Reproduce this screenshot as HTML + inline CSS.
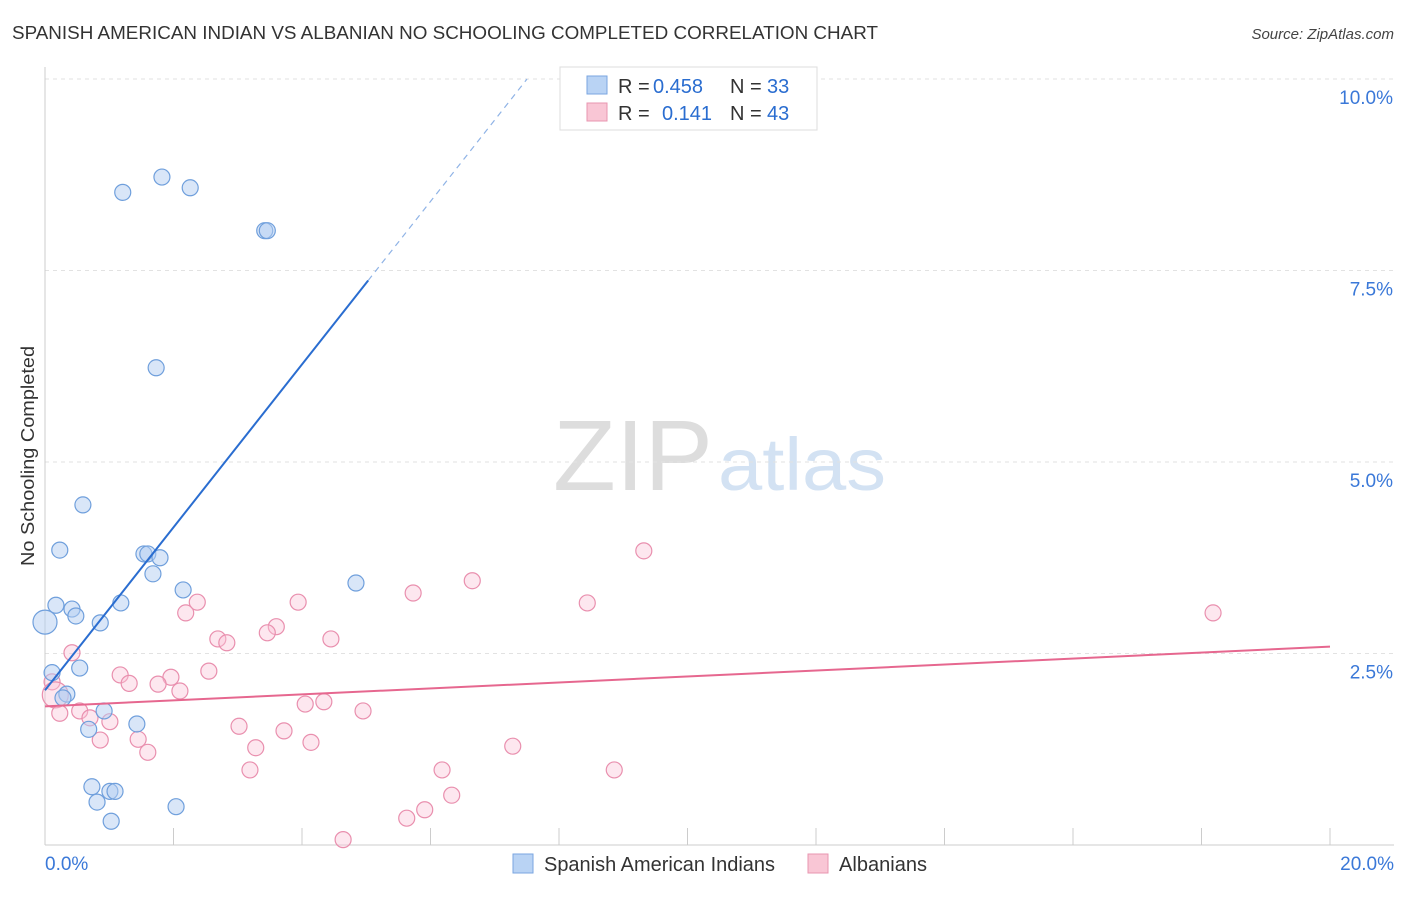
<!DOCTYPE html>
<html><head><meta charset="utf-8"><style>
body{margin:0;background:#fff;font-family:"Liberation Sans",sans-serif}
svg text{font-family:"Liberation Sans",sans-serif}
</style></head><body>
<svg width="1406" height="892" xmlns="http://www.w3.org/2000/svg" id="chart">
<text x="12" y="39" font-size="18" fill="#333" textLength="866" lengthAdjust="spacingAndGlyphs">SPANISH AMERICAN INDIAN VS ALBANIAN NO SCHOOLING COMPLETED CORRELATION CHART</text>
<text x="1394" y="39" font-size="15" fill="#444" text-anchor="end" font-style="italic">Source: ZipAtlas.com</text>
<g>
<text x="553" y="490" font-size="100" fill="#ddd" font-family="Liberation Serif" textLength="160" lengthAdjust="spacingAndGlyphs">ZIP</text>
<text x="718" y="490" font-size="74" fill="#d3e2f3" textLength="168" lengthAdjust="spacingAndGlyphs">atlas</text>
</g>
<g id="grid"></g>
<g id="axes"></g>
<g id="marks"></g>
<text transform="translate(34,456) rotate(-90)" font-size="18" fill="#333" text-anchor="middle" textLength="220" lengthAdjust="spacingAndGlyphs">No Schooling Completed</text>
<g>
<rect x="560" y="67" width="257" height="63" fill="#fff" stroke="#ddd"/>
<rect x="587" y="76" width="20" height="18" fill="#b9d3f4" stroke="#7aa6e0"/>
<rect x="587" y="103" width="20" height="18" fill="#f9c6d5" stroke="#e896b0"/>
<text x="618" y="93" font-size="20" fill="#333">R =</text>
<text x="653" y="93" font-size="20" fill="#2a6dd0">0.458</text>
<text x="730" y="93" font-size="20" fill="#333">N =</text>
<text x="767" y="93" font-size="20" fill="#2a6dd0">33</text>
<text x="618" y="120" font-size="20" fill="#333">R =</text>
<text x="662" y="120" font-size="20" fill="#2a6dd0">0.141</text>
<text x="730" y="120" font-size="20" fill="#333">N =</text>
<text x="767" y="120" font-size="20" fill="#2a6dd0">43</text>
</g>
<g>
<rect x="513" y="854" width="20" height="19" fill="#b9d3f4" stroke="#7aa6e0"/>
<text x="544" y="871" font-size="20" fill="#333" textLength="231" lengthAdjust="spacingAndGlyphs">Spanish American Indians</text>
<rect x="808" y="854" width="20" height="19" fill="#f9c6d5" stroke="#e896b0"/>
<text x="839" y="871" font-size="20" fill="#333" textLength="88" lengthAdjust="spacingAndGlyphs">Albanians</text>
</g>
</svg>
<script>
const blueX=[1.21,1.82,2.26,3.42,3.46,1.73,0.59,0.23,1.54,1.60,1.79,1.68,2.15,4.84,0.17,1.18,0.42,0.48,0.0,0.86,0.11,0.54,0.34,0.28,0.92,1.43,0.68,0.73,1.01,1.09,0.81,2.04,1.03];
const blueY=[8.52,8.72,8.58,8.02,8.02,6.23,4.44,3.85,3.80,3.80,3.75,3.54,3.33,3.42,3.13,3.16,3.08,2.99,2.91,2.90,2.25,2.31,1.97,1.92,1.75,1.58,1.51,0.76,0.70,0.70,0.56,0.50,0.31];
const pinkX=[9.32,6.65,5.73,8.44,18.18,2.37,3.94,2.19,3.60,3.46,2.69,2.83,4.45,0.42,2.55,1.17,1.96,1.31,1.76,2.10,0.11,0.16,4.05,4.34,4.95,0.54,0.23,0.70,1.01,3.02,3.72,1.45,0.86,4.14,3.28,7.28,1.60,3.19,6.18,8.86,6.33,5.91,5.63,4.64];
const pinkY=[3.84,3.45,3.29,3.16,3.03,3.17,3.17,3.03,2.85,2.77,2.69,2.64,2.69,2.51,2.27,2.22,2.19,2.11,2.10,2.01,2.13,1.96,1.84,1.87,1.75,1.75,1.72,1.66,1.61,1.55,1.49,1.38,1.37,1.34,1.27,1.29,1.21,0.98,0.98,0.98,0.65,0.46,0.35,0.07];
const yTicks=[2.5,5.0,7.5,10.0];
const yTickLabels=["2.5%","5.0%","7.5%","10.0%"];
const xTicks=[0,2,4,6,8,10,12,14,16,18,20];
const blueTrend=[0.0,2.02,5.03,7.37];
const pinkTrend=[0.0,1.81,20.0,2.59];
const NS="http://www.w3.org/2000/svg";
const sx=v=>45+v/20*1285, sy=v=>845-v/10*766;
function mk(tag,attrs,parent){const e=document.createElementNS(NS,tag);for(const k in attrs)e.setAttribute(k,attrs[k]);document.getElementById(parent).appendChild(e);return e;}
yTicks.forEach((t,i)=>{
 const g=mk('line',{x1:45,x2:1394,y1:sy(t),y2:sy(t),stroke:'#e2e2e2','stroke-dasharray':'4,4'},'grid');
 
 
 const l=mk('text',{x:1393,y:sy(t)+25,'font-size':19,fill:'#3a78d8','text-anchor':'end'},'axes');
 l.textContent=yTickLabels[i];
 
 
});
const ax=mk('line',{x1:45,x2:45,y1:67,y2:845,stroke:'#ccc'},'axes');


const bx=mk('line',{x1:45,x2:1394,y1:845,y2:845,stroke:'#ccc'},'axes');


xTicks.forEach(t=>{const e=mk('line',{x1:sx(t),x2:sx(t),y1:828,y2:845,stroke:'#ccc'},'axes');
 
 });
const x0=mk('text',{x:45,y:870,'font-size':19,fill:'#3a78d8'},'axes');x0.textContent='0.0%';


const x1=mk('text',{x:1394,y:870,'font-size':19,fill:'#3a78d8','text-anchor':'end'},'axes');x1.textContent='20.0%';


pinkX.forEach((x,i)=>{const c=mk('circle',{cx:sx(x),cy:sy(pinkY[i]),r:(i==21?13:8),fill:'rgba(249,195,214,0.4)',stroke:'#e98fae','stroke-width':1.2},'marks');
 
 });
blueX.forEach((x,i)=>{const c=mk('circle',{cx:sx(x),cy:sy(blueY[i]),r:(i==18?12:8),fill:'rgba(180,206,242,0.5)',stroke:'#6f9fdc','stroke-width':1.2},'marks');
 
 });
const slope=(blueTrend[3]-blueTrend[1])/(blueTrend[2]-blueTrend[0]);
const bxEnd=blueTrend[0]+(10-blueTrend[1])/slope;
const bl=mk('line',{x1:sx(blueTrend[0]),y1:sy(blueTrend[1]),x2:sx(blueTrend[2]),y2:sy(blueTrend[3]),stroke:'#2a6dd0','stroke-width':2},'marks');


const bd=mk('line',{x1:sx(blueTrend[2]),y1:sy(blueTrend[3]),x2:sx(bxEnd),y2:sy(10),stroke:'#8fb3e6','stroke-width':1.2,'stroke-dasharray':'6,5'},'marks');


const pl=mk('line',{x1:sx(pinkTrend[0]),y1:sy(pinkTrend[1]),x2:sx(pinkTrend[2]),y2:sy(pinkTrend[3]),stroke:'#e6678f','stroke-width':2},'marks');


</script>
</body></html>
